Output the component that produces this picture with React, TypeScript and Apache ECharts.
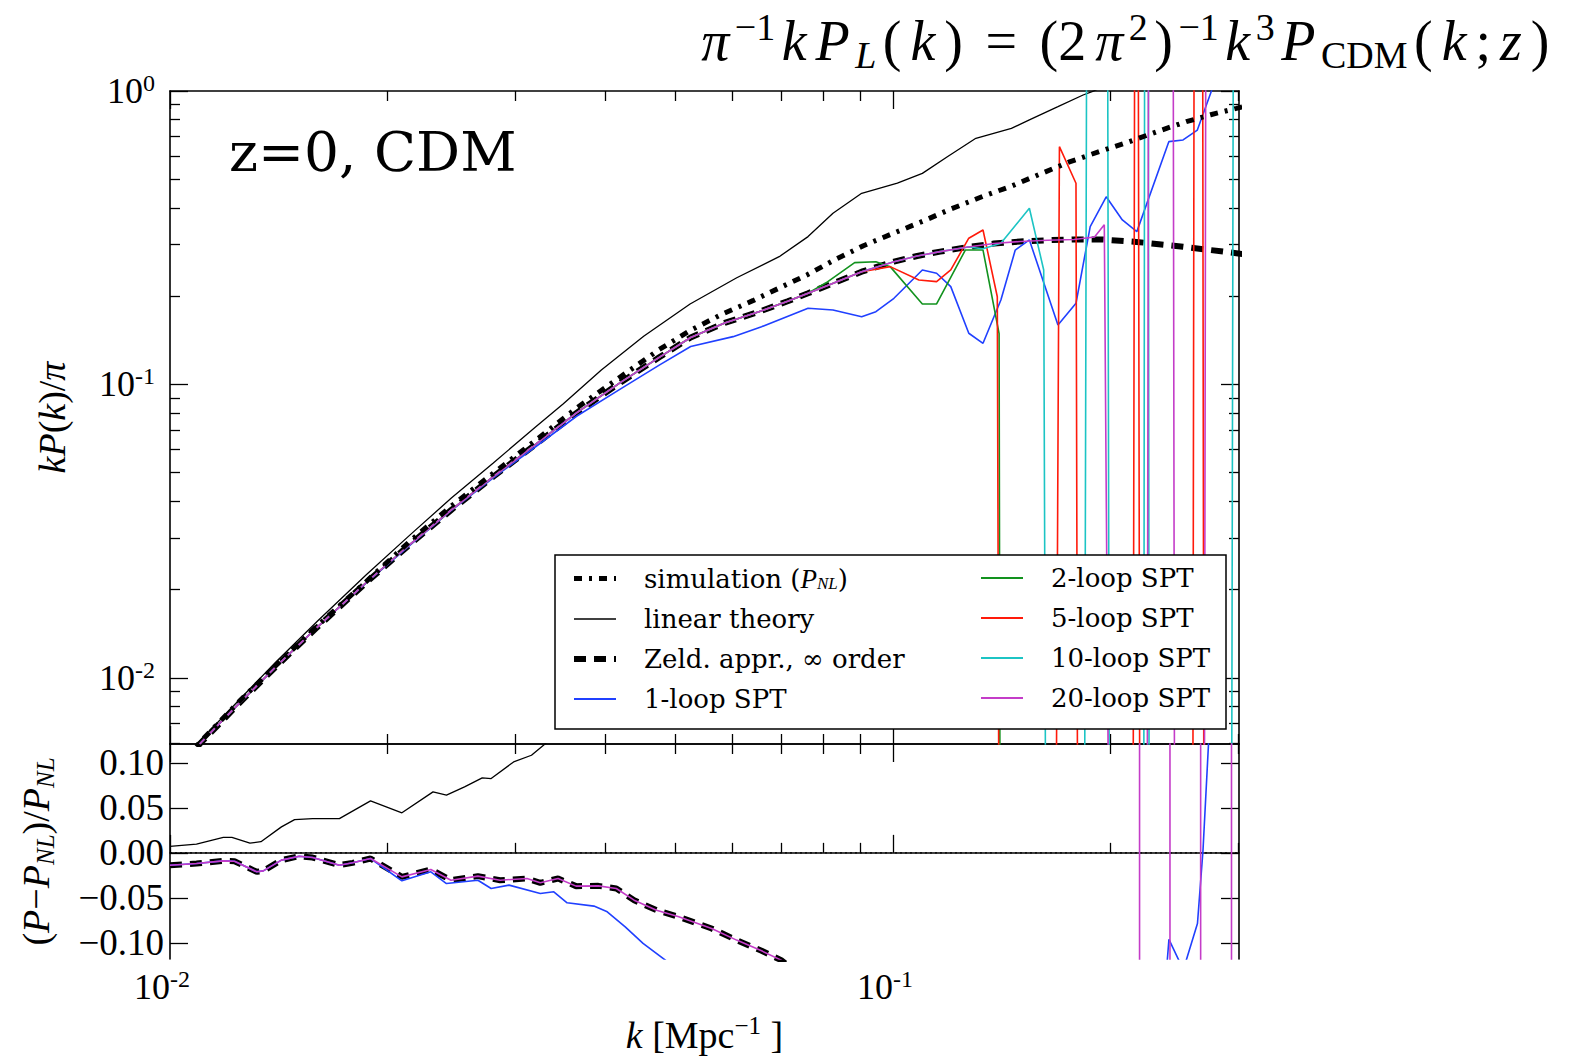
import React, { useEffect, useRef } from 'react';
import * as echarts from 'echarts';

// ---------------- data ----------------
const K_MIN = 0.01;
const K_MAX = 0.301;
const PK_MIN = 0.00595;
const PK_MAX = 1;
const REL_MIN = -0.118;
const REL_MAX = 0.121;

// non-positive values of the log panel (clipped to the floor, as in the original)
const NEG = 1e-6;
// off-scale spikes
const BIG = 60;

const xMajorTicks = [0.01, 0.1];
const xMinorTicks = [0.02, 0.03, 0.04, 0.05, 0.06, 0.07, 0.08, 0.09, 0.2, 0.3];
const yMajorTicks = [0.01, 0.1, 1];
const yMinorTicks = [0.006, 0.007, 0.008, 0.009, 0.02, 0.03, 0.04, 0.05, 0.06, 0.07, 0.08, 0.09, 0.2, 0.3, 0.4, 0.5, 0.6, 0.7, 0.8, 0.9];
const relTicks = [-0.1, -0.05, 0, 0.05, 0.1];

// top panel: kP(k)/pi
const simulation: [number, number][] = [
  [0.010, 0.00466], [0.011, 0.00603], [0.0125, 0.00837], [0.014, 0.0110], [0.016, 0.01506], [0.0187, 0.02134],
  [0.0215, 0.0293], [0.0245, 0.0385], [0.028, 0.0498], [0.032, 0.0643], [0.0365, 0.0830], [0.042, 0.1062],
  [0.0475, 0.1315], [0.0525, 0.153], [0.058, 0.1735], [0.064, 0.193], [0.0696, 0.213], [0.076, 0.236],
  [0.0826, 0.264], [0.091, 0.297], [0.1003, 0.328], [0.11, 0.36], [0.1202, 0.396], [0.133, 0.437],
  [0.1458, 0.474], [0.16, 0.522], [0.175, 0.572], [0.193, 0.622], [0.2123, 0.672], [0.233, 0.73],
  [0.2545, 0.786], [0.275, 0.83], [0.2985, 0.873], [0.305, 0.885],
];

const linear: [number, number][] = [
  [0.010, 0.00469], [0.011, 0.00609], [0.0125, 0.00847], [0.014, 0.0113], [0.016, 0.01563], [0.0187, 0.02251],
  [0.0215, 0.03077], [0.0245, 0.0410], [0.028, 0.0540], [0.032, 0.0714], [0.035, 0.0860], [0.0395, 0.112],
  [0.0452, 0.146], [0.0524, 0.188], [0.0608, 0.231], [0.0696, 0.2725], [0.0763, 0.319], [0.0826, 0.383],
  [0.0905, 0.448], [0.1014, 0.485], [0.1098, 0.524], [0.1189, 0.597], [0.1302, 0.690], [0.1458, 0.746],
  [0.1544, 0.797], [0.1691, 0.884], [0.1832, 0.969], [0.1885, 0.995], [0.2, 1.06], [0.22, 1.2],
];

const zeldovich: [number, number][] = [
  [0.010, 0.0046], [0.011, 0.00596], [0.0125, 0.00825], [0.014, 0.01089], [0.016, 0.01491], [0.0187, 0.02117],
  [0.0215, 0.02858], [0.0245, 0.03736], [0.028, 0.04847], [0.032, 0.0623], [0.0365, 0.080], [0.042, 0.1016],
  [0.0475, 0.1237], [0.0525, 0.1445], [0.0585, 0.162], [0.0657, 0.178], [0.0715, 0.192], [0.0763, 0.2045],
  [0.083, 0.222], [0.0905, 0.2422], [0.1003, 0.262], [0.108, 0.274], [0.1162, 0.2835], [0.127, 0.294],
  [0.1379, 0.302], [0.15, 0.307], [0.1635, 0.310], [0.178, 0.312], [0.194, 0.312], [0.2171, 0.306],
  [0.235, 0.300], [0.2519, 0.2947], [0.275, 0.287], [0.2985, 0.280], [0.305, 0.278],
];

const loop1: [number, number][] = [
  [0.010, 0.0046], [0.011, 0.00596], [0.0125, 0.00825], [0.014, 0.01089], [0.016, 0.0149], [0.0187, 0.0211],
  [0.0215, 0.0284], [0.0245, 0.0372], [0.028, 0.0480], [0.032, 0.0612], [0.0365, 0.0779], [0.042, 0.0966],
  [0.0475, 0.1163], [0.0525, 0.1346], [0.0601, 0.1455], [0.0658, 0.1573], [0.0763, 0.1818], [0.0826, 0.1794],
  [0.0905, 0.170], [0.0947, 0.177], [0.1003, 0.1966], [0.1098, 0.2455], [0.1149, 0.2392], [0.1202, 0.2154],
  [0.1273, 0.1494], [0.1332, 0.1381], [0.141, 0.194], [0.1476, 0.287], [0.1544, 0.3107], [0.1691, 0.1595],
  [0.1791, 0.189], [0.1874, 0.345], [0.1972, 0.436], [0.2076, 0.3635], [0.2174, 0.3317], [0.2407, 0.672],
  [0.2519, 0.681], [0.2636, 0.736], [0.2757, 1.0], [0.29, 1.5], [0.305, 2.2],
];

// higher loops follow the Zel'dovich curve at low k, then depart
const loop2Tail: [number, number][] = [
  [0.0808, 0.222], [0.0885, 0.26], [0.0947, 0.262], [0.0991, 0.252], [0.1098, 0.188], [0.1149, 0.188],
  [0.1259, 0.287], [0.1332, 0.287], [0.1402, 0.149], [0.1415, NEG], [0.31, NEG],
];
const loop5Tail: [number, number][] = [
  [0.0991, 0.252], [0.1086, 0.227], [0.1149, 0.224], [0.1202, 0.2455], [0.1273, 0.315], [0.1332, 0.336],
  [0.1394, 0.199], [0.1415, NEG], [0.1655, NEG], [0.1699, 0.646], [0.1791, 0.485], [0.1815, NEG],
  [0.2135, NEG], [0.2165, BIG], [0.2178, BIG], [0.2208, NEG], [0.2585, NEG], [0.2615, BIG], [0.2675, BIG],
  [0.2705, NEG], [0.31, NEG],
];
const loop10Tail: [number, number][] = [
  [0.1332, 0.29], [0.141, 0.303], [0.1544, 0.3985], [0.1616, 0.2455], [0.1645, NEG], [0.1825, NEG],
  [0.186, BIG], [0.1975, BIG], [0.2005, NEG], [0.2215, NEG], [0.2232, BIG], [0.2252, BIG], [0.2268, NEG],
  [0.292, NEG], [0.2965, BIG], [0.31, BIG],
];
const loop20Tail: [number, number][] = [
  [0.19, 0.318], [0.196, 0.35], [0.2035, NEG], [0.2235, NEG], [0.2262, BIG], [0.2435, BIG], [0.2465, NEG],
  [0.268, NEG], [0.2715, BIG], [0.31, BIG],
];

// bottom panel: (P - P_NL)/P_NL
const linearRel: [number, number][] = [
  [0.01, 0.0072], [0.01088, 0.0097], [0.01185, 0.0171], [0.01218, 0.0171], [0.0129, 0.0107], [0.01336, 0.0124],
  [0.01426, 0.0289], [0.01487, 0.0370], [0.01575, 0.0381], [0.01715, 0.0381], [0.01894, 0.0578], [0.02093, 0.0445],
  [0.02311, 0.0678], [0.02412, 0.0641], [0.02555, 0.0733], [0.02703, 0.0833], [0.02781, 0.0826], [0.02987, 0.1011],
  [0.03162, 0.1085], [0.03298, 0.1208], [0.036, 0.15], [0.05, 0.28], [0.1, 0.6], [0.3, 1.8],
];
const zeldRel: [number, number][] = [
  [0.01, -0.0138], [0.01088, -0.0119], [0.01185, -0.0089], [0.01228, -0.0093], [0.01318, -0.0211], [0.01346, -0.0200],
  [0.01426, -0.0081], [0.01509, -0.0037], [0.01575, -0.0052], [0.01715, -0.0137], [0.01789, -0.0111], [0.01894, -0.0063],
  [0.02093, -0.0267], [0.02295, -0.0185], [0.02447, -0.0304], [0.02666, -0.0259], [0.02861, -0.0304], [0.03117, -0.0285],
  [0.03252, -0.0333], [0.03442, -0.0285], [0.03644, -0.0370], [0.03913, -0.0367], [0.04143, -0.0396], [0.04385, -0.0526],
  [0.04709, -0.0637], [0.05055, -0.0711], [0.05612, -0.0841], [0.06077, -0.0970], [0.0658, -0.1089], [0.07004, -0.1193],
  [0.08, -0.155], [0.1, -0.2], [0.15, -0.35], [0.2, -0.54], [0.3, -0.68],
];
const loop1RelTail: [number, number][] = [
  [0.02093, -0.0311], [0.02295, -0.0211], [0.02412, -0.0341], [0.02666, -0.0304], [0.02781, -0.0396], [0.02944, -0.0359],
  [0.03252, -0.0452], [0.03395, -0.0433], [0.03542, -0.0555], [0.03858, -0.0592], [0.04025, -0.0655], [0.04262, -0.0822],
  [0.04511, -0.1007], [0.04844, -0.1193], [0.055, -0.16], [0.07, -0.2], [0.1, -0.4], [0.1273, -0.65], [0.1544, -0.35],
  [0.1691, -0.7], [0.1972, -0.3], [0.2174, -0.55], [0.2408, -0.0962], [0.2521, -0.13], [0.2637, -0.0785],
  [0.2684, 0.003], [0.2731, 0.12], [0.2757, 0.2], [0.29, 0.8],
];
const loop20RelTail: [number, number][] = [
  [0.08, -0.16], [0.12, -0.3], [0.16, -0.5], [0.19, -0.5], [0.196, -0.45], [0.2035, -800], [0.2175, -800],
  [0.2211, 800], [0.2397, 800], [0.2435, -800], [0.2643, -800], [0.2685, 800], [0.2915, 800], [0.2963, -800],
  [0.31, -800],
];
const zeroLine: [number, number][] = [[K_MIN, 0], [K_MAX, 0]];

// ---------------- layout & style ----------------
const SERIF = 'Liberation Serif';
const DEJAVU = 'DejaVu Serif';
const GRID_TOP = { left: 170, top: 91, width: 1069, height: 653 };
const GRID_BOT = { left: 170, top: 744, width: 1069, height: 215 };
const LEGEND_BOX = { x: 555, y: 555, width: 671, height: 174 };
const AXIS_W = 1.6;
const MAJOR_LEN = 18;
const MINOR_LEN = 10;

const C = {
  blue: '#2040ff',
  green: '#12921e',
  red: '#ff1a0a',
  cyan: '#1cc4c4',
  magenta: '#c43cc8',
};

const before = (data: [number, number][], k: number) => data.filter((p) => p[0] < k);

const supX = { b: { fontFamily: SERIF, fontSize: 36, lineHeight: 40, color: '#000' }, e: { fontFamily: SERIF, fontSize: 24, lineHeight: 24, verticalAlign: 'top', color: '#000', padding: [0, 16, 0, 0] } };
const supY = { b: { fontFamily: SERIF, fontSize: 36, lineHeight: 40, color: '#000' }, e: { fontFamily: SERIF, fontSize: 24, lineHeight: 24, verticalAlign: 'top', color: '#000', padding: [0, 9, 0, 0] } };
const powLabel = (v: number) => {
  const e = Math.round(Math.log10(v));
  return `{b|10}{e|${e < 0 ? '-' + -e : e}}`;
};
const nameRich = {
  n: { fontFamily: SERIF, fontSize: 38, lineHeight: 44, color: '#000' },
  i: { fontFamily: SERIF, fontStyle: 'italic', fontSize: 38, lineHeight: 44, color: '#000' },
  s: { fontFamily: SERIF, fontStyle: 'italic', fontSize: 25, lineHeight: 25, verticalAlign: 'bottom', color: '#000' },
  u: { fontFamily: SERIF, fontSize: 25, lineHeight: 25, verticalAlign: 'top', color: '#000' },
};

function xAxes(gridIndex: number, labels: boolean) {
  const base = {
    type: 'log', gridIndex, min: K_MIN, max: K_MAX, logBase: 10,
    splitLine: { show: false }, minorTick: { show: false }, minorSplitLine: { show: false },
  };
  const tick = (vals: number[], len: number) => ({ show: true, inside: true, length: len, customValues: vals, lineStyle: { color: '#000', width: 1.3 } });
  const noLabel = { show: false };
  return [
    {
      ...base, position: 'bottom',
      axisLine: { show: true, lineStyle: { color: '#000', width: AXIS_W } },
      axisTick: tick(xMajorTicks, MAJOR_LEN),
      axisLabel: labels
        ? { show: true, customValues: xMajorTicks, margin: 8, formatter: powLabel, rich: supX }
        : noLabel,
      name: labels ? '{i|k}{n| [Mpc}{u|−1}{n| ]}' : '',
      nameLocation: 'middle', nameGap: 54, nameTextStyle: { rich: nameRich },
    },
    { ...base, position: 'bottom', axisLine: { show: false }, axisTick: tick(xMinorTicks, MINOR_LEN), axisLabel: noLabel },
    { ...base, position: 'top', axisLine: { show: true, lineStyle: { color: '#000', width: AXIS_W } }, axisTick: tick(xMajorTicks, MAJOR_LEN), axisLabel: noLabel },
    { ...base, position: 'top', axisLine: { show: false }, axisTick: tick(xMinorTicks, MINOR_LEN), axisLabel: noLabel },
  ];
}

function lineSeries(name: string, data: [number, number][], color: string, width: number, xi: number, yi: number, type: any = 'solid', z = 2) {
  return {
    type: 'line', name, data, xAxisIndex: xi, yAxisIndex: yi, showSymbol: false, symbol: 'none', clip: true,
    lineStyle: { color, width, type }, itemStyle: { color }, z, silent: true,
  };
}

const SIM = 'simulation (P_NL)';
const LIN = 'linear theory';
const ZEL = 'Zeld. appr., ∞ order';
const L1 = '1-loop SPT';
const L2 = '2-loop SPT';
const L5 = '5-loop SPT';
const L10 = '10-loop SPT';
const L20 = '20-loop SPT';

const SIM_DASH = [8, 7, 3, 7];
const ZEL_DASH = [12, 8];

const legendRich = {
  g: { width: 23 },
  n: { fontFamily: DEJAVU, fontSize: 26, lineHeight: 27, color: '#000' },
  i: { fontFamily: SERIF, fontStyle: 'italic', fontSize: 27, lineHeight: 27, color: '#000' },
  s: { fontFamily: SERIF, fontStyle: 'italic', fontSize: 17, lineHeight: 17, verticalAlign: 'bottom', color: '#000' },
};
const legendFormatter = (name: string) =>
  name === SIM ? '{g|}{n|simulation (}{i|P}{s|NL}{n|)}' : `{g|}{n|${name}}`;

const hiddenSymbol = { color: 'rgba(0,0,0,0)', opacity: 0, borderWidth: 0, borderColor: 'rgba(0,0,0,0)' };

export default function App() {
  const ref = useRef<HTMLDivElement>(null);
  useEffect(() => {
    if (!ref.current) return;
    const chart = echarts.init(ref.current, undefined, { renderer: 'svg' });

    const T = 56;
    const t = 38;
    const pad = [0, 4.5, 0, 4.5];
    const titleRich = {
      n: { fontFamily: SERIF, fontWeight: 'normal', fontSize: T, lineHeight: 66, color: '#000', padding: pad },
      i: { fontFamily: SERIF, fontWeight: 'normal', fontStyle: 'italic', fontSize: T, lineHeight: 66, color: '#000', padding: pad },
      q: { fontFamily: SERIF, fontWeight: 'normal', fontSize: T, lineHeight: 66, color: '#000', padding: [0, 18, 0, 18] },
      u: { fontFamily: SERIF, fontWeight: 'normal', fontSize: t, lineHeight: 40, verticalAlign: 'top', color: '#000', padding: [0, 2, 0, 1] },
      s: { fontFamily: SERIF, fontWeight: 'normal', fontStyle: 'italic', fontSize: t, lineHeight: 40, verticalAlign: 'bottom', color: '#000', padding: [0, 2, 0, 1] },
      r: { fontFamily: SERIF, fontWeight: 'normal', fontSize: t, lineHeight: 40, verticalAlign: 'bottom', color: '#000', padding: [0, 2, 0, 1] },
    };

    const option: any = {
      animation: false,
      backgroundColor: '#fff',
      textStyle: { fontFamily: SERIF },
      title: [
        {
          text: '{i|π}{u|−1}{i|k}{i|P}{s|L}{n|(}{i|k}{n|)}{q|=}{n|(2}{i|π}{u|2}{n|)}{u|−1}{i|k}{u|3}{i|P}{r|CDM}{n|(}{i|k}{n|;}{i|z}{n|)}',
          right: 23, top: 8, padding: 0,
          textStyle: { fontWeight: 'normal', rich: titleRich },
        },
        {
          text: 'z=0, CDM', left: 229, top: 124, padding: 0,
          textStyle: { fontFamily: DEJAVU, fontSize: 55, fontWeight: 'normal', color: '#000' },
        },
      ],
      grid: [
        { ...GRID_TOP, containLabel: false },
        { ...GRID_BOT, containLabel: false },
      ],
      xAxis: [...xAxes(0, false), ...xAxes(1, true)],
      yAxis: [
        {
          type: 'log', gridIndex: 0, position: 'left', min: PK_MIN, max: PK_MAX, logBase: 10,
          splitLine: { show: false },
          axisLine: { show: true, lineStyle: { color: '#000', width: AXIS_W } },
          axisTick: { show: true, inside: true, length: MAJOR_LEN, customValues: yMajorTicks, lineStyle: { color: '#000', width: 1.3 } },
          axisLabel: { show: true, customValues: yMajorTicks, margin: 6, formatter: powLabel, rich: supY },
          name: '{i|kP}{n|(}{i|k}{n|)/}{i|π}', nameLocation: 'middle', nameRotate: 90, nameGap: 96,
          nameTextStyle: { rich: nameRich },
        },
        {
          type: 'log', gridIndex: 0, position: 'left', min: PK_MIN, max: PK_MAX, logBase: 10, splitLine: { show: false },
          axisLine: { show: false }, axisLabel: { show: false },
          axisTick: { show: true, inside: true, length: MINOR_LEN, customValues: yMinorTicks, lineStyle: { color: '#000', width: 1.3 } },
        },
        {
          type: 'log', gridIndex: 0, position: 'right', min: PK_MIN, max: PK_MAX, logBase: 10, splitLine: { show: false },
          axisLine: { show: true, lineStyle: { color: '#000', width: AXIS_W } }, axisLabel: { show: false },
          axisTick: { show: true, inside: true, length: MAJOR_LEN, customValues: yMajorTicks, lineStyle: { color: '#000', width: 1.3 } },
        },
        {
          type: 'log', gridIndex: 0, position: 'right', min: PK_MIN, max: PK_MAX, logBase: 10, splitLine: { show: false },
          axisLine: { show: false }, axisLabel: { show: false },
          axisTick: { show: true, inside: true, length: MINOR_LEN, customValues: yMinorTicks, lineStyle: { color: '#000', width: 1.3 } },
        },
        {
          type: 'value', gridIndex: 1, position: 'left', min: REL_MIN, max: REL_MAX, splitLine: { show: false },
          axisLine: { show: true, lineStyle: { color: '#000', width: AXIS_W } },
          axisTick: { show: true, inside: true, length: MAJOR_LEN, customValues: relTicks, lineStyle: { color: '#000', width: 1.3 } },
          axisLabel: {
            show: true, customValues: relTicks, margin: 6, fontFamily: SERIF, fontSize: 37, color: '#000',
            formatter: (v: number) => (v < -1e-9 ? '−' : '') + Math.abs(v).toFixed(2),
          },
          name: '{n|(}{i|P}{n|−}{i|P}{s|NL}{n|)/}{i|P}{s|NL}', nameLocation: 'middle', nameRotate: 90, nameGap: 112,
          nameTextStyle: { rich: nameRich },
        },
        {
          type: 'value', gridIndex: 1, position: 'right', min: REL_MIN, max: REL_MAX, splitLine: { show: false },
          axisLine: { show: true, lineStyle: { color: '#000', width: AXIS_W } }, axisLabel: { show: false },
          axisTick: { show: true, inside: true, length: MAJOR_LEN, customValues: relTicks, lineStyle: { color: '#000', width: 1.3 } },
        },
      ],
      legend: [
        {
          data: [
            { name: SIM, lineStyle: { width: 5, type: SIM_DASH, color: '#000' } },
            { name: LIN, lineStyle: { width: 1.3, color: '#000' } },
            { name: ZEL, lineStyle: { width: 6, type: ZEL_DASH, color: '#000' } },
            { name: L1 },
          ],
          orient: 'vertical', left: 571, top: 565, padding: 0,
          itemWidth: 42, itemHeight: 14, itemGap: 14, selectedMode: false,
          itemStyle: hiddenSymbol,
          formatter: legendFormatter, textStyle: { rich: legendRich },
        },
        {
          data: [L2, L5, L10, L20], orient: 'vertical', left: 980, top: 565, padding: 0,
          itemWidth: 42, itemHeight: 14, itemGap: 14, selectedMode: false,
          itemStyle: hiddenSymbol,
          formatter: legendFormatter, textStyle: { rich: legendRich },
        },
      ],
      graphic: [
        {
          type: 'rect', z: 3, silent: true,
          shape: { x: LEGEND_BOX.x, y: LEGEND_BOX.y, width: LEGEND_BOX.width, height: LEGEND_BOX.height },
          style: { fill: '#fff', stroke: '#000', lineWidth: 1.5 },
        },
      ],
      series: [
        // top panel
        lineSeries(LIN, linear, '#000', 1.3, 0, 0),
        lineSeries(ZEL, zeldovich, '#000', 6, 0, 0, ZEL_DASH),
        lineSeries(L1, loop1, C.blue, 1.6, 0, 0),
        lineSeries(L2, [...before(zeldovich, 0.078), ...loop2Tail], C.green, 1.6, 0, 0),
        lineSeries(L5, [...before(zeldovich, 0.095), ...loop5Tail], C.red, 1.6, 0, 0),
        lineSeries(L10, [...before(zeldovich, 0.13), ...loop10Tail], C.cyan, 1.6, 0, 0),
        lineSeries(L20, [...before(zeldovich, 0.185), ...loop20Tail], C.magenta, 1.6, 0, 0),
        lineSeries(SIM, simulation, '#000', 5, 0, 0, SIM_DASH),
        // bottom panel
        lineSeries('zero', zeroLine, '#000', 1.4, 4, 4, [2, 3]),
        lineSeries(LIN, linearRel, '#000', 1.3, 4, 4),
        lineSeries(ZEL, zeldRel, '#000', 6, 4, 4, ZEL_DASH),
        lineSeries(L1, [...before(zeldRel, 0.02), ...loop1RelTail], C.blue, 1.6, 4, 4),
        lineSeries(L20, [...before(zeldRel, 0.075), ...loop20RelTail], C.magenta, 1.6, 4, 4),
      ],
    };
    chart.setOption(option);
    return () => chart.dispose();
  }, []);
  return (
    <div
      ref={ref}
      style={{ position: 'fixed', left: 0, top: 0, width: 1577, height: 1060, background: '#fff' }}
    />
  );
}
